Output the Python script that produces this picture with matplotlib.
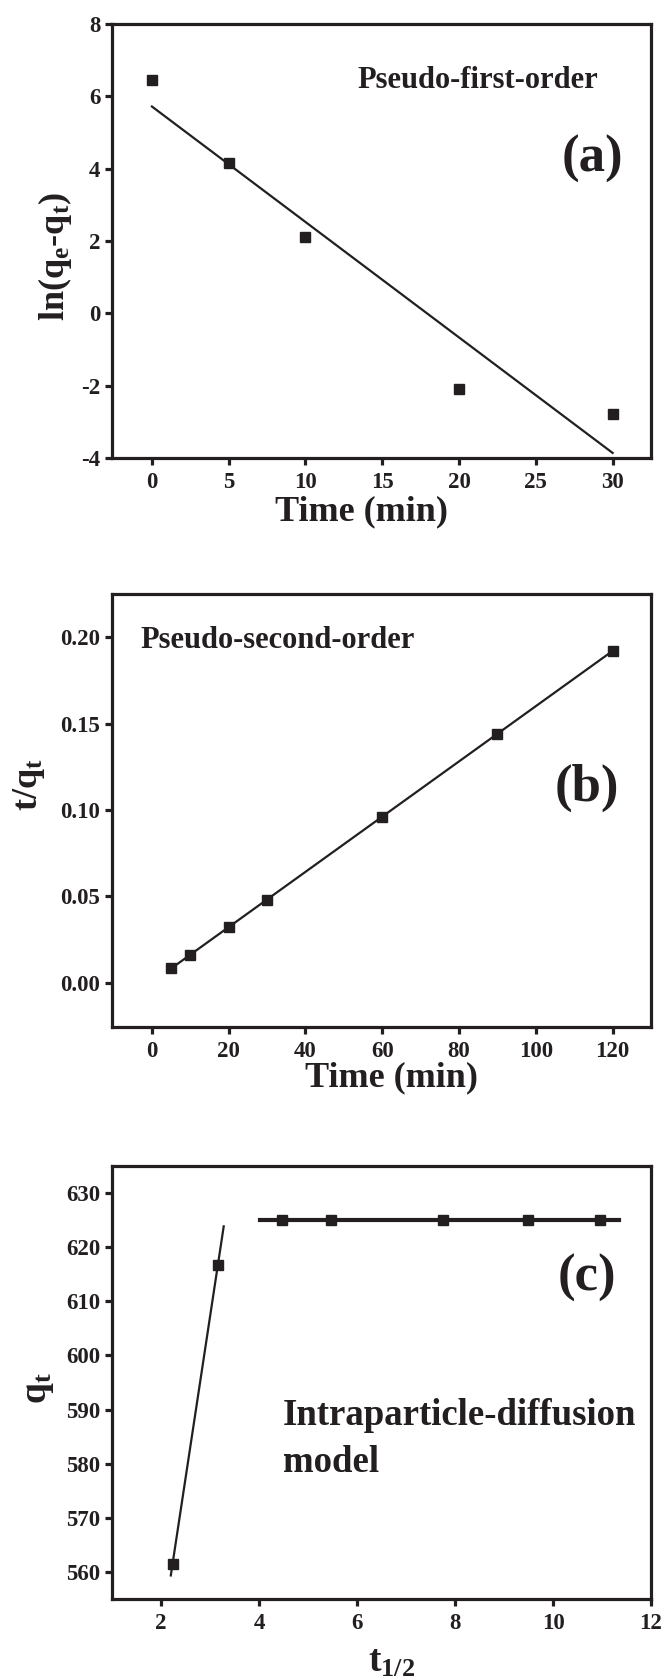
import numpy as np
import matplotlib
matplotlib.use("Agg")
import matplotlib.pyplot as plt

# ---- data ----
time_a = [0, 5, 10, 20, 30]
ln_qe_qt = [6.45, 4.15, 2.10, -2.08, -2.78]

time_b = [5, 10, 20, 30, 60, 90, 120]
t_over_qt = [0.0089, 0.0162, 0.0321, 0.0480, 0.0962, 0.1441, 0.1922]

t_half_1 = [2.236, 3.162]
qt_1 = [561.5, 616.8]
t_half_2 = [4.472, 5.477, 7.746, 9.487, 10.954]
qt_2 = [625.0, 625.0, 625.0, 625.0, 625.0]

xticks_a = [0, 5, 10, 15, 20, 25, 30]
yticks_a = [-4, -2, 0, 2, 4, 6, 8]
xticks_b = [0, 20, 40, 60, 80, 100, 120]
yticks_b = [0.00, 0.05, 0.10, 0.15, 0.20]
xticks_c = [2, 4, 6, 8, 10, 12]
yticks_c = [560, 570, 580, 590, 600, 610, 620, 630]

plt.rcParams['font.family'] = ['Liberation Serif', 'DejaVu Serif']
plt.rcParams['font.weight'] = 'bold'
plt.rcParams['axes.unicode_minus'] = False
plt.rcParams['mathtext.fontset'] = 'custom'
plt.rcParams['mathtext.rm'] = 'Liberation Serif:bold'
plt.rcParams['mathtext.it'] = 'Liberation Serif:bold'
plt.rcParams['mathtext.bf'] = 'Liberation Serif:bold'

W, H = 664, 1678
fig = plt.figure(figsize=(W / 100, H / 100), dpi=100)

def make_axes(top_px, bottom_px, left_px=112, right_px=651):
    return fig.add_axes([left_px / W, 1 - bottom_px / H,
                         (right_px - left_px) / W, (bottom_px - top_px) / H])

ink = '#231f20'
ms = 7.2

def style(ax):
    for s in ax.spines.values():
        s.set_linewidth(2.3)
        s.set_color(ink)
    ax.tick_params(direction='out', length=5, width=2.3, labelsize=16.5,
                   color=ink, labelcolor=ink)
    ax.tick_params(axis='x', pad=5)
    ax.tick_params(axis='y', pad=3.5)
    for lab in ax.get_xticklabels() + ax.get_yticklabels():
        lab.set_fontweight('bold')

# ---- (a) ----
ax1 = make_axes(24, 458)
ax1.plot(time_a, ln_qe_qt, 's', color=ink, ms=ms, zorder=3)
p = np.polyfit(time_a, ln_qe_qt, 1)
xf = np.array([time_a[0], time_a[-1]])
ax1.plot(xf, np.polyval(p, xf), '-', color=ink, lw=1.6)
ax1.set_xlim(-2.6, 32.5)
ax1.set_ylim(-4, 8)
ax1.set_xticks(xticks_a)
ax1.set_yticks(yticks_a)
style(ax1)
ax1.set_xlabel('Time (min)', fontsize=26, fontweight='bold', color=ink)
ax1.xaxis.label.set_va('center')
ax1.xaxis.set_label_coords(0.462, -0.124)
ax1.set_ylabel(r'ln(q$_{e}$-q$_{t}$)', fontsize=26, fontweight='bold', color=ink)
ax1.yaxis.label.set_va('center')
ax1.yaxis.set_label_coords(-0.106, 0.465)
ax1.text(0.679, 0.869, 'Pseudo-first-order', transform=ax1.transAxes,
         ha='center', va='center', fontsize=22, fontweight='bold', color=ink)
ax1.text(0.891, 0.689, '(a)', transform=ax1.transAxes,
         ha='center', va='center', fontsize=38, fontweight='bold', color=ink)

# ---- (b) ----
ax2 = make_axes(594, 1027)
ax2.plot(time_b, t_over_qt, 's', color=ink, ms=ms, zorder=3)
p2 = np.polyfit(time_b, t_over_qt, 1)
xf2 = np.array([time_b[0], time_b[-1]])
ax2.plot(xf2, np.polyval(p2, xf2), '-', color=ink, lw=1.6)
ax2.set_xlim(-10.4, 130)
ax2.set_ylim(-0.0255, 0.225)
ax2.set_xticks(xticks_b)
ax2.set_yticks(yticks_b)
ax2.set_yticklabels(['%.2f' % v for v in yticks_b])
style(ax2)
ax2.set_xlabel('Time (min)', fontsize=26, fontweight='bold', color=ink)
ax2.xaxis.label.set_va('center')
ax2.xaxis.set_label_coords(0.518, -0.118)
ax2.set_ylabel(r't/q$_{t}$', fontsize=26, fontweight='bold', color=ink)
ax2.yaxis.label.set_va('center')
ax2.yaxis.set_label_coords(-0.154, 0.559)
ax2.text(0.052, 0.892, 'Pseudo-second-order', transform=ax2.transAxes,
         ha='left', va='center', fontsize=22, fontweight='bold', color=ink)
ax2.text(0.881, 0.552, '(b)', transform=ax2.transAxes,
         ha='center', va='center', fontsize=38, fontweight='bold', color=ink)

# ---- (c) ----
ax3 = make_axes(1166, 1599)
ax3.plot(t_half_1, qt_1, 's', color=ink, ms=ms, zorder=3)
ax3.plot(t_half_2, qt_2, 's', color=ink, ms=ms, zorder=3)
p3 = np.polyfit(t_half_1, qt_1, 1)
xf3 = np.array([2.2, 3.28])
ax3.plot(xf3, np.polyval(p3, xf3), '-', color=ink, lw=1.6)
ax3.plot([4.03, 11.35], [np.mean(qt_2), np.mean(qt_2)], '-', color=ink, lw=3.0)
ax3.set_xlim(1, 12)
ax3.set_ylim(555, 635)
ax3.set_xticks(xticks_c)
ax3.set_yticks(yticks_c)
style(ax3)
ax3.set_xlabel(r't$_{1/2}$', fontsize=27, fontweight='bold', color=ink)
ax3.xaxis.label.set_va('center')
ax3.xaxis.set_label_coords(0.519, -0.146)
ax3.set_ylabel(r'q$_{t}$', fontsize=27, fontweight='bold', color=ink)
ax3.yaxis.label.set_va('center')
ax3.yaxis.set_label_coords(-0.137, 0.487)
ax3.text(0.881, 0.741, '(c)', transform=ax3.transAxes,
         ha='center', va='center', fontsize=38, fontweight='bold', color=ink)
ax3.text(0.317, 0.423, 'Intraparticle-diffusion', transform=ax3.transAxes,
         ha='left', va='center', fontsize=26.5, fontweight='bold', color=ink)
ax3.text(0.317, 0.316, 'model', transform=ax3.transAxes,
         ha='left', va='center', fontsize=26.5, fontweight='bold', color=ink)

fig.savefig('out.png', dpi=100)
